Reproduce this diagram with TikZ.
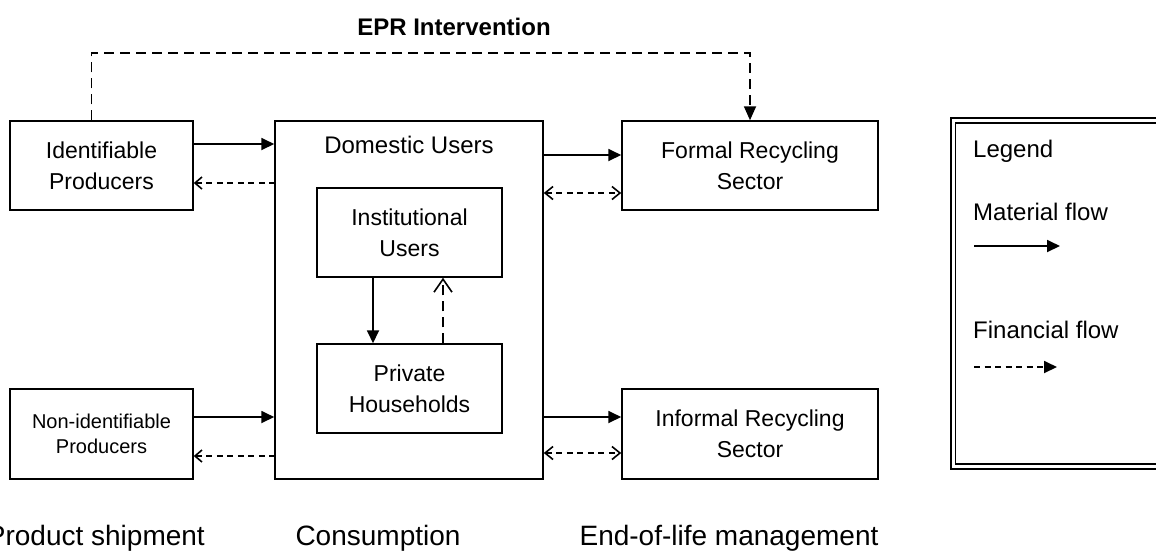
\documentclass[tikz,border=0pt]{standalone}
\usepackage{fontspec}
\setmainfont{Liberation Sans}
\usetikzlibrary{arrows.meta}

\begin{document}
\begin{tikzpicture}[x=1pt, y=-1pt,
    box/.style={draw, line width=1.5pt, inner sep=0pt, align=center, font=\fontsize{23}{31}\selectfont},
    txt/.style={inner sep=0pt, font=\fontsize{24}{31}\selectfont},
    stage/.style={inner sep=0pt, anchor=base, font=\fontsize{28}{34}\selectfont},
    mat/.style={line width=1.8pt, -{Triangle[length=13pt,width=12pt]}},
    fin/.style={line width=1.8pt, dash pattern=on 6pt off 4.5pt},
    finback/.style={fin, {Straight Barb[length=7pt,width=12pt,line width=1.6pt]}-},
    fintwo/.style={fin, {Straight Barb[length=8pt,width=13pt,line width=1.6pt]}-{Straight Barb[length=8pt,width=13pt,line width=1.6pt]}}]
  \useasboundingbox (0,0) rectangle (1156,550);

  \node (ident) [box, minimum width=183pt, minimum height=89pt] at (101.5,165.5) {Identifiable\\Producers};
  \node (nonid) [box, minimum width=183pt, minimum height=90pt, font=\fontsize{20}{25}\selectfont] at (101.5,434) {Non-identifiable\\Producers};
  \node (dom) [box, minimum width=268pt, minimum height=358pt] at (409,300) {};
  \path (dom.north) ++(0,33) node (domlbl) [txt, anchor=base] {Domestic Users};
  \node (inst) [box, minimum width=185pt, minimum height=89pt] at (409.5,232.5) {Institutional\\Users};
  \node (priv) [box, minimum width=185pt, minimum height=89pt] at (409.5,388.5) {Private\\Households};
  \node (formal) [box, minimum width=256pt, minimum height=89pt] at (750,165.5) {Formal Recycling\\Sector};
  \node (informal) [box, minimum width=256pt, minimum height=90pt] at (750,434) {Informal Recycling\\Sector};

  % producers <-> users
  \draw[mat] ([yshift=21.5pt]ident.east) -- ([yshift=21.5pt]ident.east -| dom.west);
  \draw[finback] ([yshift=-17.5pt]ident.east) -- ([yshift=-17.5pt]ident.east -| dom.west);
  \draw[mat] ([yshift=17pt]nonid.east) -- ([yshift=17pt]nonid.east -| dom.west);
  \draw[finback] ([yshift=-22pt]nonid.east) -- ([yshift=-22pt]nonid.east -| dom.west);

  % users -> recycling
  \draw[mat] ([yshift=10.5pt]formal.west -| dom.east) -- ([yshift=10.5pt]formal.west);
  \draw[fintwo] ([yshift=-27.5pt]formal.west -| dom.east) -- ([yshift=-27.5pt]formal.west);
  \draw[mat] ([yshift=17pt]informal.west -| dom.east) -- ([yshift=17pt]informal.west);
  \draw[fintwo] ([yshift=-19pt]informal.west -| dom.east) -- ([yshift=-19pt]informal.west);

  \draw[mat] ([xshift=-36.5pt]inst.south) -- ([xshift=-36.5pt]priv.north);
  \draw[line width=1.8pt, dash pattern=on 10pt off 6pt, -{Straight Barb[length=13pt,width=18pt,line width=1.6pt]}] ([xshift=33.5pt]priv.north) -- ([xshift=33.5pt]inst.south);

  % EPR
  \coordinate (eprtop) at (420,53);
  \draw[line width=1.8pt, dash pattern=on 10pt off 6pt, -{Triangle[length=14pt,width=12pt]}] ([xshift=-10pt]ident.north) |- (eprtop) -| (formal.north);
  \node (epr) [inner sep=0pt, anchor=base, font=\bfseries\fontsize{24}{30}\selectfont] at (454,35) {EPR Intervention};

  % stages
  \node (ship) [stage, anchor=base east] at (205,545) {Product shipment};
  \node (cons) [stage] at (378,545) {Consumption};
  \node (eol) [stage] at (729,545) {End-of-life management};

  % legend
  \draw[line width=2.2pt] (951,118) rectangle (1175,469);
  \draw[line width=1.3pt] (955.5,123) rectangle (1170,464);
  \node (leg) [txt, anchor=base west] at (973,157) {Legend};
  \node (legmat) [txt, anchor=base west] at (973,220) {Material flow};
  \node (legfin) [txt, anchor=base west] at (973,338) {Financial flow};
  \coordinate (matA) at (974,246);
  \coordinate (matB) at (1060,246);
  \coordinate (finA) at (974,367);
  \coordinate (finB) at (1057,367);
  \draw[mat] (matA) -- (matB);
  \draw[fin, -{Triangle[length=13pt,width=12pt]}] (finA) -- (finB);
\end{tikzpicture}
\end{document}
